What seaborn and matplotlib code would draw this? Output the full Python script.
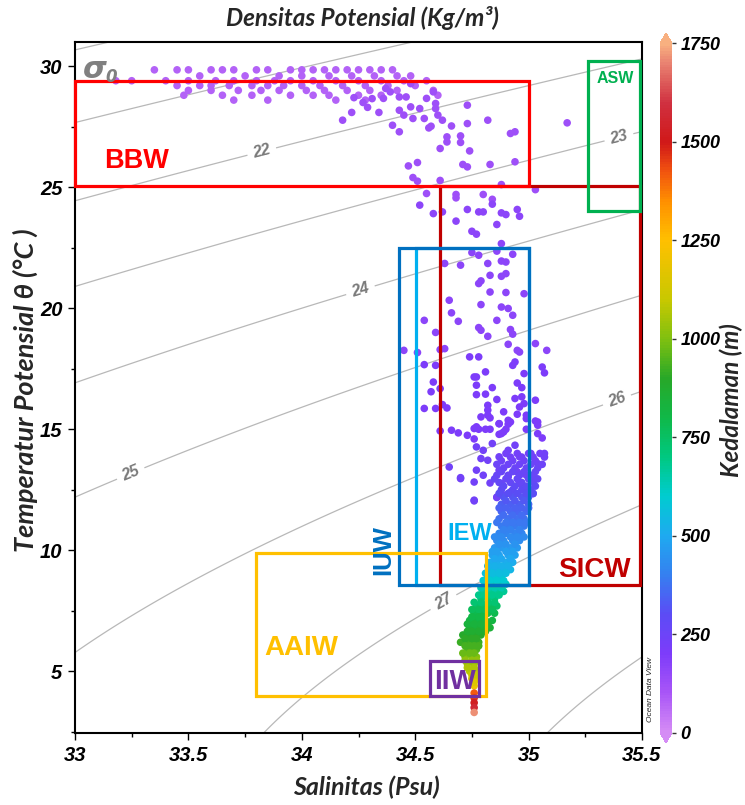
import numpy as np
import pandas as pd
import matplotlib
matplotlib.use("Agg")
import matplotlib.pyplot as plt
import seaborn as sns
from matplotlib import font_manager
from matplotlib.colors import LinearSegmentedColormap, Normalize
from matplotlib.patches import Rectangle
from matplotlib.cm import ScalarMappable
from matplotlib.ticker import MultipleLocator

# ---------------- data ----------------
# surface layer rows (temperature level, salinities)
surf_T = [29.85, 29.6, 29.4, 29.2, 29.0, 28.8, 28.6]
surf_S = [
    [33.35, 33.45, 33.5, 33.6, 33.65, 33.7, 33.8, 33.85, 33.95, 34.0, 34.05, 34.1, 34.15, 34.2, 34.25, 34.3, 34.35, 34.4],
    [33.55, 33.75, 33.9, 34.0, 34.12, 34.22, 34.32, 34.42, 34.48],
    [33.18, 33.25, 33.4, 33.5, 33.62, 33.7, 33.8, 33.88, 33.95, 34.05, 34.15, 34.25, 34.35, 34.45, 34.55],
    [33.45, 33.55, 33.6, 33.68, 33.78, 33.85, 33.92, 34.0, 34.08, 34.18, 34.28, 34.38, 34.5],
    [33.5, 33.6, 33.72, 33.82, 33.9, 34.02, 34.1, 34.2, 34.3, 34.42, 34.58],
    [33.48, 33.65, 33.78, 33.95, 34.05, 34.12, 34.25, 34.35, 34.6],
    [33.7, 33.85, 34.15, 34.28],
]
surf_depth = 80

mix_S = [34.18, 34.22, 34.23, 34.27, 34.29, 34.31, 34.34, 34.36, 34.37, 34.39, 34.40, 34.43, 34.43, 34.43,
         34.45, 34.46, 34.48, 34.48, 34.49, 34.52, 34.54, 34.55, 34.56, 34.57, 34.58, 34.59, 34.59, 34.60,
         34.62, 34.64, 34.64, 34.66, 34.70, 34.70, 34.73, 34.73, 34.74, 34.61, 34.82, 34.92, 34.94, 35.17,
         34.47, 34.51, 34.49, 34.51, 34.61, 34.71, 34.73, 34.83, 34.94, 34.88, 35.03, 34.55, 34.68, 34.68,
         34.80, 34.84]
mix_T = [27.77, 28.09, 28.7, 28.5, 28.3, 28.66, 28.09, 28.67, 29.08, 28.94, 27.56, 27.29, 28.73, 28.18,
         27.98, 28.73, 28.32, 29.28, 27.84, 28.25, 27.84, 28.67, 27.45, 27.52, 28.94, 28.46, 28.25, 27.98,
         27.77, 27.08, 26.87, 27.53, 27.12, 26.85, 28.39, 27.63, 26.5, 26.6, 27.77, 27.22, 27.29, 27.66,
         25.88, 26.02, 25.4, 25.25, 25.28, 25.94, 25.84, 25.94, 26.05, 25.11, 24.9, 24.74, 24.7, 24.56,
         24.7, 24.5]
mix_depth = 125

tcu_S = [34.52, 34.58, 34.62, 34.68, 34.73, 34.78, 34.80, 34.84, 34.88, 34.90, 34.95, 34.96, 34.86, 34.75,
         34.77, 34.88, 34.75, 34.78, 34.86, 34.93, 34.88, 34.90, 34.70, 34.63, 34.82, 34.83, 34.88, 34.90,
         34.78, 34.79, 34.83, 34.90, 34.98, 34.65, 34.79, 34.88, 34.91, 34.93, 34.66, 34.69, 34.54, 34.86,
         34.78, 34.79, 34.59, 34.92, 34.93, 34.82, 34.45, 34.51, 34.61, 34.63, 34.91, 34.95, 34.96, 35.03,
         35.08]
tcu_T = [24.26, 23.91, 23.98, 23.6, 24.08, 23.98, 23.98, 24.3, 23.94, 23.87, 24.08, 23.8, 23.46, 23.18,
         23.06, 22.67, 22.3, 22.19, 22.36, 22.23, 21.95, 21.91, 21.78, 21.85, 21.85, 21.36, 21.32, 21.43,
         21.02, 21.13, 20.67, 20.65, 20.6, 20.33, 20.15, 20.05, 19.99, 19.71, 19.81, 19.46, 19.5, 19.5,
         19.2, 19.09, 19.0, 19.12, 18.93, 18.84, 18.26, 18.17, 18.29, 18.33, 18.51, 18.26, 18.19, 18.54,
         18.26]
tcu_depth = 165

tcl_S = [34.74, 34.78, 34.54, 34.59, 34.94, 34.93, 34.81, 35.06, 35.07, 34.98, 34.76, 34.77, 34.58, 34.95,
         34.97, 34.77, 34.84, 34.57, 34.61, 34.77, 34.81, 34.86, 34.94, 34.97, 35.03, 34.98, 34.62, 34.64,
         34.54, 34.59, 34.82, 34.82, 34.89, 34.79, 34.83, 34.91, 34.95, 34.99, 35.03, 34.87, 34.91, 35.04,
         34.76, 34.78, 34.81, 34.83, 34.90, 34.99, 34.61, 34.66, 34.69, 34.73, 34.87, 34.89, 35.06, 34.82,
         34.87, 34.88, 34.92, 34.96, 34.99, 35.04, 35.04, 34.77, 34.76]
tcl_T = [17.99, 17.99, 17.67, 17.64, 17.78, 17.64, 17.37, 17.57, 17.33, 17.3, 17.16, 17.16, 16.95, 16.91,
         16.72, 16.82, 16.72, 16.55, 16.68, 16.43, 16.45, 16.23, 16.27, 16.34, 16.2, 16.06, 16.02, 15.88,
         15.86, 15.86, 15.99, 15.79, 15.72, 15.51, 15.47, 15.37, 15.62, 15.44, 15.34, 15.23, 15.21, 15.17,
         15.03, 15.0, 15.0, 15.0, 15.0, 15.0, 14.93, 14.96, 14.85, 14.75, 14.79, 14.89, 14.64, 15.58,
         15.23, 14.82, 15.3, 15.92, 15.58, 15.3, 14.82, 15.1, 14.6]
tcl_depth = 200

tcd_S = [35.07, 34.77, 34.80, 34.84, 34.79, 34.82, 34.87, 34.91, 34.94, 34.96, 35.01, 35.04, 34.65, 34.70,
         34.76, 34.77, 34.80, 34.83, 34.87, 34.88, 34.91, 34.95, 34.99, 35.03, 34.86, 34.76, 34.89, 34.92,
         34.96, 34.99, 35.02, 34.76, 34.86, 34.70]
tcd_T = [14.0, 14.27, 14.13, 14.41, 13.79, 13.72, 13.86, 14.13, 14.34, 13.86, 14.0, 13.58, 13.44, 12.96,
         12.82, 13.31, 13.1, 12.78, 13.31, 12.76, 13.03, 13.24, 13.1, 12.96, 12.2, 12.07, 12.27, 12.41,
         12.76, 12.62, 12.34, 12.04, 12.18, 13.0]
tcd_depth = 235

# dense intermediate / deep profile rows
deep_T = [14.0, 13.7, 13.4, 13.1, 12.8, 12.5, 12.2, 11.9, 11.6, 11.3, 11.0, 10.7, 10.4, 10.1, 9.8, 9.5,
          9.2, 8.9, 8.6, 8.3, 8.0, 7.7, 7.4, 7.1, 6.8, 6.5, 6.2, 5.9, 5.6, 5.3, 5.0, 4.7, 4.4, 4.1,
          3.9, 3.7, 3.5, 3.3]
deep_S = [
    [34.90, 34.95, 35.0, 35.05], [34.88, 34.93, 34.98, 35.03], [34.89, 34.94, 34.99, 35.04],
    [34.86, 34.91, 34.96, 35.01], [34.87, 34.92, 34.97, 35.02], [34.88, 34.93, 34.97, 35.01],
    [34.89, 34.93, 34.97, 35.0], [34.88, 34.92, 34.96, 35.0], [34.88, 34.92, 34.95, 34.99],
    [34.87, 34.91, 34.95, 34.98], [34.88, 34.91, 34.94, 34.98], [34.87, 34.9, 34.94, 34.97],
    [34.86, 34.89, 34.93, 34.96], [34.85, 34.88, 34.92, 34.95], [34.84, 34.87, 34.91, 34.94],
    [34.83, 34.86, 34.9, 34.93], [34.83, 34.86, 34.89, 34.92], [34.82, 34.85, 34.88],
    [34.81, 34.84, 34.87, 34.9], [34.8, 34.83, 34.86, 34.89], [34.79, 34.82, 34.85],
    [34.77, 34.8, 34.83, 34.86], [34.76, 34.79, 34.82, 34.85], [34.74, 34.76, 34.78, 34.81, 34.84],
    [34.74, 34.77, 34.8, 34.83], [34.71, 34.74, 34.76, 34.79], [34.70, 34.73, 34.76, 34.78],
    [34.73, 34.75, 34.77], [34.72, 34.75, 34.77], [34.73, 34.76], [34.74, 34.77], [34.75, 34.77],
    [34.76], [34.76], [34.76], [34.76], [34.76], [34.76],
]
deep_depth = [230, 240, 255, 265, 280, 295, 315, 335, 355, 375, 395, 415, 435, 460, 485, 510,
              540, 575, 620, 670, 710, 750, 790, 820, 850, 890, 920, 950, 1000, 1040, 1080, 1130,
              1200, 1420, 1470, 1520, 1570, 1710]

# in-between rows of the same dense profile
deep2_T = [13.85, 13.55, 13.25, 12.95, 12.65, 12.35, 12.05, 11.75, 11.45, 11.15, 10.85, 10.55, 10.25,
           9.95, 9.65, 9.35, 9.05, 8.75, 8.45, 8.15, 7.85, 7.55, 7.25, 6.95, 6.65, 6.35, 6.05, 5.75,
           5.45, 5.15, 4.85, 4.55]
deep2_S = [
    [34.92, 34.97, 35.02, 35.07], [34.86, 34.91, 34.96, 35.01, 35.06], [34.88, 34.93, 34.98, 35.03],
    [34.85, 34.90, 34.95, 35.0, 35.04], [34.89, 34.94, 34.99, 35.03], [34.87, 34.91, 34.95, 34.99, 35.02],
    [34.9, 34.94, 34.98], [34.87, 34.9, 34.94, 34.97, 35.0], [34.89, 34.93, 34.97],
    [34.86, 34.9, 34.93, 34.96, 34.99], [34.89, 34.92, 34.96], [34.85, 34.88, 34.92, 34.95, 34.98],
    [34.87, 34.9, 34.94], [34.84, 34.86, 34.9, 34.93], [34.85, 34.88, 34.92],
    [34.82, 34.85, 34.88, 34.91], [34.81, 34.84, 34.87, 34.9], [34.8, 34.83, 34.86, 34.89],
    [34.79, 34.82, 34.85, 34.88], [34.78, 34.81, 34.84, 34.87], [34.76, 34.79, 34.82, 34.85],
    [34.75, 34.78, 34.81, 34.84], [34.75, 34.78, 34.8], [34.73, 34.76, 34.79, 34.82],
    [34.73, 34.75, 34.78, 34.81], [34.72, 34.75, 34.77], [34.72, 34.74, 34.76, 34.78],
    [34.71, 34.74, 34.76], [34.72, 34.75, 34.77], [34.73, 34.76], [34.75, 34.77], [34.76],
]
deep2_depth = [235, 248, 260, 272, 288, 305, 325, 345, 365, 385, 405, 425, 448, 472, 498, 525,
               558, 598, 645, 690, 730, 770, 805, 835, 870, 905, 935, 975, 1020, 1060, 1100, 1160]

# water-mass boxes (salinity / temperature extents)
box_name = ["SICW", "BBW", "ASW", "IEW", "IUW", "AAIW", "IIW"]
box_S0 = [34.61, 33.0, 35.26, 34.505, 34.43, 33.80, 34.565]
box_S1 = [35.49, 35.0, 35.49, 35.0, 35.0, 34.81, 34.78]
box_T0 = [8.55, 25.05, 24.0, 8.55, 8.55, 3.98, 3.97]
box_T1 = [25.05, 29.38, 30.2, 22.5, 22.5, 9.88, 5.43]
box_color = ["#c00000", "#ff0000", "#00b050", "#00b0f0", "#0070c0", "#ffc000", "#7030a0"]

# density contour levels and labelled ones
sigma_plain = [18, 19, 20, 21, 28, 29]
sigma_labelled = [22, 23, 24, 25, 26, 27]
sigma_label_S = [33.82, 35.40, 34.26, 33.24, 35.39, 34.62]
sigma_label_T = [26.6, 27.0, 20.7, 13.3, 16.2, 7.93]

cbar_ticks = [0, 250, 500, 750, 1000, 1250, 1500, 1750]

# ---------------- assemble ----------------
S_all, T_all, D_all = [], [], []
for t, row in zip(surf_T, surf_S):
    for s in row:
        S_all.append(s); T_all.append(t); D_all.append(surf_depth)
for ss, tt, d in [(mix_S, mix_T, mix_depth), (tcu_S, tcu_T, tcu_depth),
                  (tcl_S, tcl_T, tcl_depth), (tcd_S, tcd_T, tcd_depth)]:
    S_all += ss; T_all += tt; D_all += [d] * len(ss)
for rows_T, rows_S, rows_D in [(deep_T, deep_S, deep_depth), (deep2_T, deep2_S, deep2_depth)]:
    for t, row, d in zip(rows_T, rows_S, rows_D):
        for s in row:
            S_all.append(s); T_all.append(t); D_all.append(d)
df = pd.DataFrame({"S": S_all, "T": T_all, "depth": D_all})

# ---------------- styling ----------------
sns.set_theme(style="white")
avail = {f.name for f in font_manager.fontManager.ttflist}
NARROW = "Liberation Sans Narrow" if "Liberation Sans Narrow" in avail else "Liberation Sans"
HUM = "Lato" if "Lato" in avail else "DejaVu Sans"
plt.rcParams["font.family"] = ["Liberation Sans", "DejaVu Sans"]

anchors = [(0, "#d58cf5"), (100, "#a855f7"), (200, "#7d3cfa"), (300, "#5b4cf5"), (400, "#3580f0"),
           (500, "#1eaaf0"), (600, "#00ccd0"), (700, "#00c880"), (800, "#10b848"), (900, "#28a828"),
           (1000, "#80c010"), (1100, "#c8c800"), (1250, "#ffc000"), (1350, "#ff9000"),
           (1430, "#f05010"), (1500, "#d01818"), (1600, "#d03040"), (1700, "#e88070"), (1750, "#f8b080")]
cmap = LinearSegmentedColormap.from_list("odv", [(v / 1750, c) for v, c in anchors])
norm = Normalize(0, 1750)

W, H = 745, 805
fig = plt.figure(figsize=(W / 100, H / 100), dpi=100)
ax = fig.add_axes([75 / W, 1 - 733 / H, 567 / W, 691 / H])
ax.set_xlim(33, 35.5)
ax.set_ylim(2.45, 31.0)

# density contours (UNESCO EOS-80 at surface pressure)
Sg, Tg = np.meshgrid(np.linspace(32.8, 35.7, 300), np.linspace(1.5, 32, 300))
rw = (999.842594 + 6.793952e-2 * Tg - 9.095290e-3 * Tg**2 + 1.001685e-4 * Tg**3
      - 1.120083e-6 * Tg**4 + 6.536332e-9 * Tg**5)
A = 8.24493e-1 - 4.0899e-3 * Tg + 7.6438e-5 * Tg**2 - 8.2467e-7 * Tg**3 + 5.3875e-9 * Tg**4
B = -5.72466e-3 + 1.0227e-4 * Tg - 1.6546e-6 * Tg**2
sig = rw + A * Sg + B * Sg**1.5 + 4.8314e-4 * Sg**2 - 1000
ax.contour(Sg, Tg, sig, levels=sigma_plain, colors="#b8b8b8", linewidths=0.9, zorder=1)
cs = ax.contour(Sg, Tg, sig, levels=sigma_labelled, colors="#b8b8b8", linewidths=0.9, zorder=1)
lbls = ax.clabel(cs, manual=list(zip(sigma_label_S, sigma_label_T)),
                 inline=True, inline_spacing=6, fmt="%d", fontsize=11.5, colors="#7a7a7a")
for t in lbls:
    t.set_fontstyle("italic"); t.set_fontweight("bold"); t.set_fontfamily(NARROW)

sns.scatterplot(data=df, x="S", y="T", hue="depth", palette=cmap, hue_norm=norm, s=30,
                linewidth=0, legend=False, ax=ax, zorder=3)

for n, s0, s1, t0, t1, c in zip(box_name, box_S0, box_S1, box_T0, box_T1, box_color):
    ax.add_patch(Rectangle((s0, t0), s1 - s0, t1 - t0, fill=False, ec=c, lw=2.3, zorder=5, clip_on=False))

lab_kw = dict(fontfamily="Liberation Sans", fontweight="bold", ha="center", va="center", zorder=6)
ax.text(33.27, 26.1, "BBW", color="#ff0000", fontsize=19.5, **lab_kw)
ax.text(35.38, 29.5, "ASW", color="#00b050", fontsize=11.5, **lab_kw)
ax.text(35.29, 9.17, "SICW", color="#c00000", fontsize=20, **lab_kw)
ax.text(34.36, 10.0, "IUW", color="#0070c0", fontsize=18.5, rotation=90, **lab_kw)
ax.text(34.74, 10.7, "IEW", color="#00b0f0", fontsize=17, **lab_kw)
ax.text(34.0, 5.95, "AAIW", color="#ffc000", fontsize=20, **lab_kw)
ax.text(34.675, 4.55, "IIW", color="#7030a0", fontsize=20, **lab_kw)
ax.text(33.085, 29.85, "σ", color="#808080", fontsize=22, fontweight="bold", fontstyle="italic",
        ha="center", va="center", fontfamily="DejaVu Sans", zorder=6)
ax.text(33.16, 29.55, "0", color="#808080", fontsize=12, fontweight="bold", fontstyle="italic",
        ha="center", va="center", fontfamily="DejaVu Sans", zorder=6)

tick_kw = dict(fontfamily=NARROW, fontweight="bold", fontstyle="italic", fontsize=14.5, color="black")
xt = [33, 33.5, 34, 34.5, 35, 35.5]
ax.set_xticks(xt, labels=[f"{v:g}" for v in xt], **tick_kw)
yt = [5, 10, 15, 20, 25, 30]
ax.set_yticks(yt, labels=[f"{v:g}" for v in yt], **tick_kw)
ax.xaxis.set_minor_locator(MultipleLocator(0.25))
ax.yaxis.set_minor_locator(MultipleLocator(2.5))
ax.tick_params(which="both", direction="out", bottom=True, left=True, top=False, right=False,
               color="black", width=1)
ax.tick_params(which="major", length=5, pad=4)
ax.tick_params(which="minor", length=3)
for sp in ax.spines.values():
    sp.set_color("black"); sp.set_linewidth(1.5)
ax.set_xlabel(""); ax.set_ylabel("")

lab2 = dict(fontfamily=HUM, fontweight="bold", fontstyle="italic", ha="center", va="center")
fig.text(362 / W, 1 - 18 / H, "Densitas Potensial (Kg/m³)", fontsize=17.5, **lab2)
fig.text(366 / W, 1 - 787 / H, "Salinitas (Psu)", fontsize=18, **lab2)
fig.text(25 / W, 1 - 390 / H, "Temperatur Potensial θ (°C )", rotation=90, fontsize=19.5, **lab2)
fig.text(731 / W, 1 - 400 / H, "Kedalaman (m)", rotation=90, fontsize=17.5, **lab2)
fig.text(651 / W, 1 - 690 / H, "Ocean Data View", rotation=90, fontsize=6, fontstyle="italic",
         fontfamily=NARROW, ha="center", va="center")

cax = fig.add_axes([660 / W, 1 - 743 / H, 12 / W, 710 / H])
sm = ScalarMappable(norm=norm, cmap=cmap)
cb = fig.colorbar(sm, cax=cax, extend="both", extendfrac=0.0145)
cb.outline.set_visible(False)
cb.set_ticks(cbar_ticks, labels=[str(v) for v in cbar_ticks], **dict(tick_kw, fontsize=13))
cb.ax.tick_params(length=3, width=1, pad=3, color="#333333")

fig.savefig("out.png", dpi=100)
